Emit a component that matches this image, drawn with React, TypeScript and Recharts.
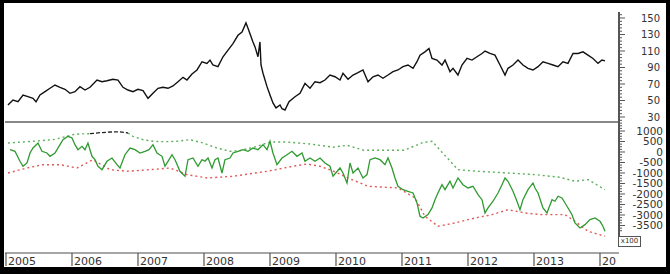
import React from 'react';
import { LineChart, Line, XAxis, YAxis } from 'recharts';

// x values are decimal years
const YEARS = [2005, 2006, 2007, 2008, 2009, 2010, 2011, 2012, 2013, 2014];
const PRICE_LABELS = [30, 50, 70, 90, 110, 130, 150];
const OSC_LABELS = [1000, 500, 0, -500, -1000, -1500, -2000, -2500, -3000, -3500];

const PRICE_T = [
  2005.03, 2005.106, 2005.182, 2005.258, 2005.333, 2005.409, 2005.455, 2005.515, 2005.591, 2005.667, 2005.742, 2005.818, 2005.894, 2005.97,
  2006.045, 2006.121, 2006.197, 2006.273, 2006.379, 2006.455, 2006.53, 2006.621, 2006.697, 2006.773, 2006.848, 2006.924,
  2007.0, 2007.076, 2007.152, 2007.227, 2007.303, 2007.379, 2007.455, 2007.53, 2007.606, 2007.682, 2007.742, 2007.818, 2007.894, 2007.97,
  2008.045, 2008.091, 2008.136, 2008.212, 2008.288, 2008.364, 2008.439, 2008.515, 2008.576, 2008.636, 2008.667, 2008.742, 2008.773, 2008.818, 2008.848, 2008.864, 2008.894, 2008.955,
  2009.0, 2009.045, 2009.091, 2009.152, 2009.182, 2009.227, 2009.288, 2009.379, 2009.455, 2009.53, 2009.606, 2009.682, 2009.758, 2009.833, 2009.909, 2009.985,
  2010.061, 2010.106, 2010.182, 2010.258, 2010.333, 2010.409, 2010.485, 2010.561, 2010.636, 2010.712, 2010.788, 2010.864, 2010.939,
  2011.015, 2011.091, 2011.167, 2011.227, 2011.273, 2011.348, 2011.409, 2011.455, 2011.53, 2011.606, 2011.652, 2011.727, 2011.773, 2011.848, 2011.909, 2011.985,
  2012.061, 2012.136, 2012.212, 2012.258, 2012.333, 2012.409, 2012.485, 2012.561, 2012.606, 2012.682, 2012.758, 2012.833, 2012.909, 2012.985,
  2013.061, 2013.136, 2013.212, 2013.288, 2013.364, 2013.439, 2013.515, 2013.591, 2013.667, 2013.742, 2013.818, 2013.894, 2013.97,
  2014.03, 2014.076,
];
const PRICE = [
  44.5, 50.6, 48.5, 56.7, 54.6, 52.6, 48.5, 56.7, 60.7, 64.8, 68.8, 66, 63.6, 58.7,
  60.7, 66.8, 62.7, 66, 74.8, 72.8, 74, 75.7, 74.8, 66, 62.7, 60.7,
  63.6, 62, 52.6, 58.7, 64.8, 66, 64.8, 67.6, 72.8, 78.1, 74.8, 82.1, 87, 97,
  95, 99, 93, 91, 103, 111, 119, 129, 133, 144, 137.6, 121, 115, 103, 121, 93, 83, 66.8,
  56.7, 47, 41, 44.5, 40, 38.5, 48.5, 54.6, 58.7, 70.8, 64.8, 72.8, 71.6, 74.8, 80.9, 78.8,
  74.8, 83, 75.7, 80.9, 83.7, 87, 72.8, 78.8, 80.9, 77, 80.9, 85, 87,
  91, 93, 89, 97, 105, 109, 113, 101, 99, 93, 99, 85, 89, 80.9, 93, 101,
  99, 103, 107, 110, 107, 105, 93, 80.9, 89, 93, 99, 93, 89, 87,
  91, 97, 95, 93, 91, 97, 95, 107, 107, 109, 105, 101, 95,
  99, 98,
];

const OSC_T = [
  2005.061, 2005.136, 2005.212, 2005.258, 2005.318, 2005.364, 2005.409, 2005.485, 2005.545, 2005.621, 2005.667, 2005.742, 2005.818, 2005.864, 2005.939,
  2006.0, 2006.045, 2006.091, 2006.152, 2006.197, 2006.242, 2006.303, 2006.348, 2006.394, 2006.455, 2006.53, 2006.606, 2006.682, 2006.727, 2006.803, 2006.879, 2006.955,
  2007.03, 2007.106, 2007.167, 2007.227, 2007.288, 2007.364, 2007.409, 2007.455, 2007.515, 2007.561, 2007.636, 2007.712, 2007.758, 2007.833, 2007.909, 2007.97,
  2008.015, 2008.061, 2008.121, 2008.167, 2008.212, 2008.273, 2008.318, 2008.394, 2008.439, 2008.515, 2008.591, 2008.667, 2008.742, 2008.818, 2008.894, 2008.955,
  2009.0, 2009.045, 2009.106, 2009.182, 2009.258, 2009.333, 2009.409, 2009.485, 2009.53, 2009.606, 2009.682, 2009.758, 2009.833, 2009.909, 2009.955,
  2010.061, 2010.106, 2010.167, 2010.212, 2010.258, 2010.333, 2010.409, 2010.47, 2010.515, 2010.591, 2010.667, 2010.742, 2010.788, 2010.848, 2010.894, 2010.939,
  2011.015, 2011.091, 2011.167, 2011.227, 2011.273, 2011.318, 2011.394, 2011.455, 2011.5, 2011.545, 2011.606, 2011.652, 2011.727, 2011.773, 2011.848, 2011.924,
  2012.0, 2012.076, 2012.152, 2012.212, 2012.258, 2012.303, 2012.379, 2012.455, 2012.515, 2012.561, 2012.606, 2012.682, 2012.742, 2012.788, 2012.833, 2012.909,
  2012.985, 2013.015, 2013.061, 2013.136, 2013.197, 2013.273, 2013.318, 2013.364, 2013.424, 2013.5, 2013.576, 2013.621, 2013.697, 2013.773, 2013.848, 2013.924,
  2014.0, 2014.045, 2014.076,
];
const OSC = [
  110, 33, -443, -680, -523, -48, 190, 429, 33, -48, -205, -48, 348, 586, 748,
  667, 348, 110, 271, 110, 429, -205, -366, -680, -842, -443, -286, -604, -761, -129, 190, 110,
  -48, 33, 110, 348, -48, -205, -680, -443, -129, -366, -919, -1156, -366, -286, -680, -366,
  -443, -286, -761, -366, -286, -1000, -366, -286, -48, 33, 110, 33, 190, 110, 348, 110,
  510, -48, -604, -286, -129, 33, -205, -48, -443, -286, -443, -286, -523, -680, -1156,
  -761, -1000, -1475, -523, -1000, -761, -1237, -1077, -366, -286, -366, -604, -286, -761, -1237, -1632,
  -1794, -1870, -1951, -2427, -3060, -3141, -2984, -2665, -2270, -1951, -1556, -1794, -1394, -1713, -1237, -1556,
  -1713, -1632, -2032, -2270, -2903, -2665, -2346, -1951, -1556, -1237, -1394, -1870, -2346, -2746, -2270, -1794,
  -1475, -1713, -1951, -2665, -2903, -2270, -2346, -2108, -2189, -2584, -2984, -3379, -3617, -3460, -3222, -3141,
  -3300, -3538, -3775,
];

// upper band (green dotted), with a gap where it is drawn black
const UPPER_T = [
  2005.03, 2005.409, 2005.742, 2005.924, 2006.015, 2006.121, 2006.273, 2006.5, 2006.848, 2006.924,
  2007.076, 2007.227, 2007.409, 2007.591, 2007.788, 2007.985, 2008.197, 2008.394, 2008.545, 2008.803,
  2009.0, 2009.258, 2009.606, 2009.955, 2010.167, 2010.424, 2011.03, 2011.318, 2011.455, 2011.848,
  2012.152, 2012.606, 2013.015, 2013.394, 2013.621, 2013.818, 2014.076,
];
const UPPER = [
  429, 510, 600, 748, 825, 860, 873, null, 905, 748,
  586, 510, 490, 510, 586, 429, 190, 33, 65, 271,
  476, 476, 381, 230, 319, 81, 81, 450, 510, -842,
  -919, -1000, -1077, -1204, -1394, -1316, -1794,
];
const UPPER_BLACK_T = [2006.273, 2006.424, 2006.576, 2006.727, 2006.848];
const UPPER_BLACK = [873, 920, 952, 960, 905];

const LOWER_T = [
  2005.03, 2005.318, 2005.561, 2005.818, 2006.076, 2006.318, 2006.576, 2006.833, 2007.182, 2007.485,
  2007.742, 2008.045, 2008.439, 2008.955, 2009.348, 2009.561, 2009.758, 2009.955, 2010.182, 2010.485,
  2010.939, 2011.197, 2011.348, 2011.545, 2011.803, 2012.106, 2012.364, 2012.606, 2012.864, 2013.121,
  2013.47, 2013.621, 2013.818, 2014.076,
];
const LOWER = [
  -1000, -761, -604, -604, -761, -366, -842, -919, -842, -761,
  -1077, -1237, -1156, -919, -680, -571, -680, -900, -1237, -1632,
  -1713, -2189, -3060, -3538, -3379, -3141, -2984, -2746, -2903, -2984,
  -2984, -3300, -3775, -4013,
];

const zip = (ts: number[], vs: (number | null)[]) => ts.map((t, i) => ({ t, v: vs[i] }));

const priceData = zip(PRICE_T, PRICE);
const oscData = zip(OSC_T, OSC);
const upperData = zip(UPPER_T, UPPER);
const upperBlackData = zip(UPPER_BLACK_T, UPPER_BLACK);
const lowerData = zip(LOWER_T, LOWER);

const X_DOMAIN = [2004.985, 2014.288];

const range = (from: number, to: number, step: number) => {
  const out: number[] = [];
  for (let v = from; v <= to + 1e-9; v += step) out.push(v);
  return out;
};
const priceTicks = range(26, 154, 4);
const oscTicks = range(-3750, 1375, 125);

const FONT = 'DejaVu Sans, Verdana, sans-serif';

function makeYTick(labels: number[], labelRight: number, size: number) {
  return function YTick(props: any) {
    const { x, y, payload } = props;
    const major = labels.includes(payload.value);
    return (
      <g>
        <line x1={x} x2={x + (major ? 6 : 3)} y1={y} y2={y} stroke="#555" strokeWidth={1} />
        {major && (
          <text x={labelRight} y={y} dy={3.8} textAnchor="end" fontSize={size} fill="#333" fontFamily={FONT}>
            {payload.value}
          </text>
        )}
      </g>
    );
  };
}

const PriceTick = makeYTick(PRICE_LABELS, 660, 10);
const OscTick = makeYTick(OSC_LABELS, 663, 10.5);

function YearTick(props: any) {
  const { x, y, payload } = props;
  // labels are cut off at the right edge of the plot
  const w = Math.max(0, Math.min(40, 616 - x));
  return (
    <g>
      <line x1={x} x2={x} y1={y} y2={y + 13} stroke="#555" strokeWidth={1.2} />
      <svg x={x + 1} y={y} width={w} height={16} overflow="hidden">
        <text x={1} y={12} fontSize={11} fill="#333" fontFamily={FONT}>
          {payload.value}
        </text>
      </svg>
    </g>
  );
}

export default function App() {
  return (
    <div style={{ position: 'absolute', left: 0, top: 0, width: 670, height: 274, background: '#000' }}>
      <div style={{ position: 'absolute', left: 4, top: 3, width: 662, height: 264, background: '#fff' }} />

      <div style={{ position: 'absolute', left: 0, top: 0 }}>
        <LineChart width={670} height={122} data={priceData} margin={{ top: 12, right: 0, bottom: 0, left: 5 }}>
          <XAxis dataKey="t" type="number" domain={X_DOMAIN} allowDataOverflow hide />
          <YAxis
            orientation="right"
            width={51}
            domain={[23.94, 157.27]}
            allowDataOverflow
            ticks={priceTicks}
            interval={0}
            tickSize={0}
            tickMargin={0}
            axisLine={false}
            tick={<PriceTick />}
          />
          <Line dataKey="v" stroke="#111" strokeWidth={1.4} dot={false} isAnimationActive={false} />
        </LineChart>
      </div>

      <div style={{ position: 'absolute', left: 0, top: 122 }}>
        <LineChart width={670} height={152} margin={{ top: 1, right: 0, bottom: 0, left: 5 }}>
          <XAxis
            dataKey="t"
            type="number"
            domain={X_DOMAIN}
            allowDataOverflow
            ticks={YEARS}
            interval={0}
            height={21}
            tickSize={0}
            tickMargin={0}
            axisLine={{ stroke: '#888', strokeWidth: 1.5 }}
            tick={<YearTick />}
          />
          <YAxis
            orientation="right"
            width={51}
            domain={[-4810, 1381]}
            allowDataOverflow
            ticks={oscTicks}
            interval={0}
            tickSize={0}
            tickMargin={0}
            axisLine={false}
            tick={<OscTick />}
          />
          <Line data={upperData} dataKey="v" stroke="#5cb05c" strokeWidth={1.4} strokeDasharray="2 3" dot={false} isAnimationActive={false} />
          <Line data={upperBlackData} dataKey="v" stroke="#222" strokeWidth={1.3} strokeDasharray="4 2" dot={false} isAnimationActive={false} />
          <Line data={lowerData} dataKey="v" stroke="#e05a5a" strokeWidth={1.4} strokeDasharray="2 3" dot={false} isAnimationActive={false} />
          <Line data={oscData} dataKey="v" stroke="#2f9a2f" strokeWidth={1.3} dot={false} isAnimationActive={false} />
        </LineChart>
      </div>

      {/* panel separator and value axis line */}
      <div style={{ position: 'absolute', left: 5, top: 121, width: 614, height: 2, background: '#888' }} />
      <div style={{ position: 'absolute', left: 618, top: 12, width: 1.5, height: 224, background: '#555' }} />
      <div
        style={{
          position: 'absolute', left: 618, top: 236, width: 21, height: 9, border: '1px solid #555',
          fontSize: 7, lineHeight: '9px', fontFamily: FONT, color: '#333', textAlign: 'center', background: '#fff',
        }}
      >
        x100
      </div>
    </div>
  );
}
